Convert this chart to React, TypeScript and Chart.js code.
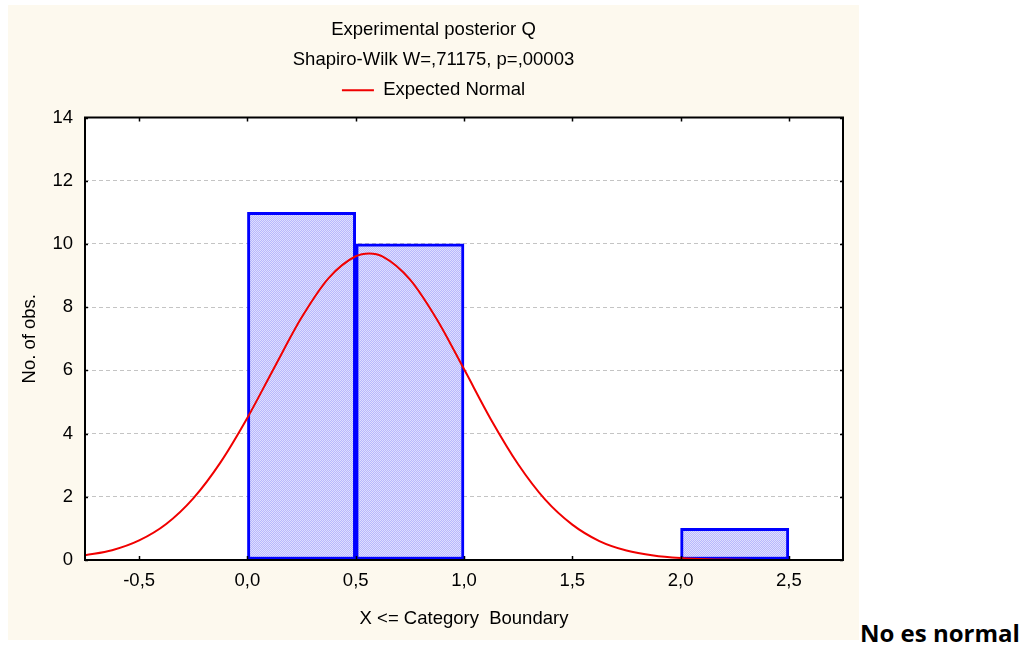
import { useEffect, useRef } from 'react';
import { Chart, registerables } from 'chart.js';

Chart.register(...registerables);

const titleLines = ['Experimental posterior Q', 'Shapiro-Wilk W=,71175, p=,00003'];
const legendLabel = 'Expected Normal';
const xAxisTitle = 'X <= Category  Boundary';
const yAxisTitle = 'No. of obs.';
const sideNote = 'No es normal';

// histogram bins (centers of 0.5-wide classes) and observed counts
const binCenters = [0.25, 0.75, 2.25];
const binCounts = [11, 10, 1];

// expected normal curve
const curveX = [-0.75, -0.625, -0.5, -0.375, -0.25, -0.125, 0, 0.125, 0.25, 0.375, 0.5, 0.5625, 0.625, 0.75, 0.875, 1, 1.125, 1.25, 1.375, 1.5, 1.625, 1.75, 1.875, 2, 2.125, 2.25, 2.375, 2.5];
const curveY = [0.15, 0.31, 0.62, 1.14, 1.95, 3.08, 4.5, 6.1, 7.67, 8.92, 9.61, 9.7, 9.6, 8.88, 7.61, 6.04, 4.44, 3.03, 1.91, 1.12, 0.6, 0.3, 0.14, 0.06, 0.02, 0.01, 0, 0];

const xTicks = [-0.5, 0, 0.5, 1, 1.5, 2, 2.5];
const yTicks = [0, 2, 4, 6, 8, 10, 12, 14];

const FONT = { family: "'Liberation Sans', Arial, sans-serif", size: 18.5, weight: 'normal' as const };

const framePlugin = {
  id: 'frame',
  beforeDraw(chart: any) {
    const { ctx, chartArea: a } = chart;
    ctx.save();
    ctx.fillStyle = '#ffffff';
    ctx.fillRect(a.left, a.top, a.right - a.left, a.bottom - a.top);
    ctx.restore();
  },
  afterDatasetsDraw(chart: any) {
    const { ctx, chartArea: a, scales } = chart;
    ctx.save();
    ctx.strokeStyle = '#000';
    ctx.lineWidth = 1.5;
    ctx.beginPath();
    for (const v of xTicks) {
      const px = Math.round(scales.x.getPixelForValue(v)) + 0.5;
      ctx.moveTo(px, a.bottom);
      ctx.lineTo(px, a.bottom - 4);
      ctx.moveTo(px, a.top);
      ctx.lineTo(px, a.top + 4);
    }
    for (const v of yTicks) {
      const py = Math.round(scales.y.getPixelForValue(v)) + 0.5;
      ctx.moveTo(a.left, py);
      ctx.lineTo(a.left + 3, py);
      ctx.moveTo(a.right, py);
      ctx.lineTo(a.right - 3, py);
    }
    ctx.stroke();
    ctx.lineWidth = 2;
    ctx.strokeRect(a.left, a.top, a.right - a.left, a.bottom - a.top);
    ctx.restore();
  },
};

export default function App() {
  const canvasRef = useRef<HTMLCanvasElement | null>(null);

  useEffect(() => {
    const canvas = canvasRef.current;
    if (!canvas) return;
    const ctx = canvas.getContext('2d')!;

    const pc = document.createElement('canvas');
    pc.width = 2;
    pc.height = 2;
    const pctx = pc.getContext('2d')!;
    pctx.fillStyle = '#dedeff';
    pctx.fillRect(0, 0, 2, 2);
    pctx.fillStyle = '#b8b8fc';
    pctx.fillRect(0, 0, 1, 1);
    pctx.fillRect(1, 1, 1, 1);
    const pattern = ctx.createPattern(pc, 'repeat')!;

    const chart = new Chart(ctx, {
      type: 'bar',
      data: {
        datasets: [
          {
            type: 'bar',
            label: 'Observed',
            xAxisID: 'x',
            yAxisID: 'y',
            data: binCenters.map((x, i) => ({ x, y: binCounts[i] })),
            backgroundColor: pattern,
            borderColor: '#0000ff',
            borderWidth: 3,
            borderSkipped: false,
            barPercentage: 1,
            categoryPercentage: 1,
            order: 2,
          } as any,
          {
            type: 'line',
            label: legendLabel,
            xAxisID: 'x',
            yAxisID: 'y',
            data: curveX.map((x, i) => ({ x, y: curveY[i] })),
            borderColor: '#f00000',
            backgroundColor: '#f00000',
            borderWidth: 2,
            pointRadius: 0,
            tension: 0.4,
            cubicInterpolationMode: 'monotone',
            order: 1,
          } as any,
        ],
      },
      options: {
        animation: false,
        responsive: false,
        maintainAspectRatio: false,
        layout: { padding: 0 },
        plugins: {
          tooltip: { enabled: false },
          title: {
            display: true,
            text: titleLines,
            color: '#000',
            font: { ...FONT, lineHeight: 30 / 18.5 },
            padding: { top: 10, bottom: 0 },
          },
          legend: {
            display: true,
            position: 'top',
            labels: {
              filter: (item: any) => item.datasetIndex === 1,
              boxWidth: 32,
              boxHeight: 0,
              padding: 6,
              color: '#000',
              font: FONT,
            },
          },
        },
        scales: {
          x: {
            type: 'linear',
            position: 'bottom',
            min: -0.75,
            max: 2.75,
            offset: false,
            afterBuildTicks: (s: any) => {
              s.ticks = xTicks.map((v) => ({ value: v }));
            },
            afterFit: (s: any) => {
              s.height = 80;
            },
            ticks: {
              autoSkip: false,
              maxRotation: 0,
              padding: 10,
              color: '#000',
              font: FONT,
              callback: (v: any) => Number(v).toFixed(1).replace('.', ','),
            },
            grid: { display: false, drawTicks: false },
            border: { display: false },
            title: {
              display: true,
              text: xAxisTitle,
              color: '#000',
              font: FONT,
              padding: { top: 0, bottom: 10 },
            },
          },
          xTop: {
            type: 'linear',
            position: 'top',
            display: true,
            afterFit: (s: any) => {
              s.height = 8;
            },
            ticks: { display: false },
            grid: { display: false, drawTicks: false },
            border: { display: false },
          },
          y: {
            type: 'linear',
            min: 0,
            max: 14,
            afterFit: (s: any) => {
              s.width = 77;
            },
            afterBuildTicks: (s: any) => {
              s.ticks = yTicks.map((v) => ({ value: v }));
            },
            ticks: { padding: 12, color: '#000', font: FONT },
            grid: { color: '#c4c4c4', lineWidth: 1, drawTicks: false },
            border: { display: false, dash: [4, 3] },
            title: {
              display: true,
              text: yAxisTitle,
              color: '#000',
              font: FONT,
              padding: { top: 11, bottom: 0 },
            },
          },
          yRight: {
            type: 'linear',
            position: 'right',
            display: true,
            afterFit: (s: any) => {
              s.width = 16;
            },
            ticks: { display: false },
            grid: { display: false, drawTicks: false },
            border: { display: false },
          },
        },
      } as any,
      plugins: [framePlugin],
    });

    return () => chart.destroy();
  }, []);

  return (
    <div style={{ position: 'absolute', left: 0, top: 0, width: 1027, height: 650, background: '#ffffff', overflow: 'hidden' }}>
      <div style={{ position: 'absolute', left: 8, top: 5, width: 851, height: 635, background: '#fdf9ee' }}>
        <canvas ref={canvasRef} width={851} height={635} style={{ width: 851, height: 635, display: 'block' }} />
      </div>
      <div
        style={{
          position: 'absolute',
          left: 860,
          top: 620,
          fontFamily: "'Open Sans', 'Noto Sans', sans-serif",
          fontWeight: 700,
          fontSize: 24,
          lineHeight: '25px',
          color: '#000',
          whiteSpace: 'nowrap',
        }}
      >
        {sideNote}
      </div>
    </div>
  );
}
